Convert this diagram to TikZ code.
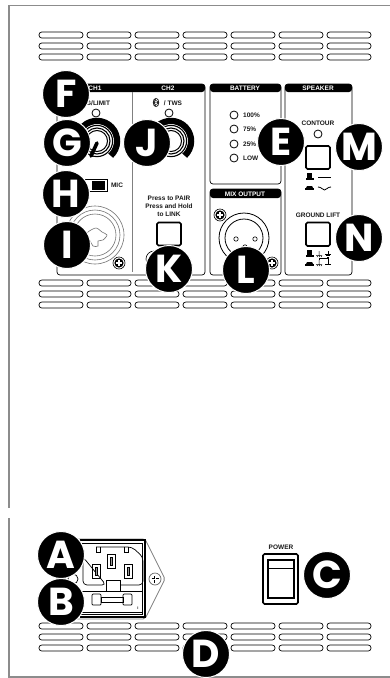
\documentclass[tikz,border=0pt]{standalone}
\usepackage{fontspec}
\setmainfont{Liberation Sans}
\newfontfamily\badgefont{Poppins}
\usetikzlibrary{positioning, arrows.meta}

\begin{document}
\begin{tikzpicture}[
  x=1pt, y=-1pt,
  frameline/.style={draw=black!45, line width=1.6pt},
  vent/.style={draw, line width=0.7pt, rounded corners=2.8pt},
  panel/.style={draw, line width=0.7pt, rounded corners=3pt},
  header/.style={fill=black, rounded corners=3pt},
  txt/.style={font=\fontsize{6.5}{8.2}\selectfont\bfseries, inner sep=0pt, align=center, text=black!90},
  headtxt/.style={txt, text=white},
  led/.style={draw, line width=0.8pt, fill=white},
  btn/.style={draw, line width=1.6pt, rounded corners=1.5pt, fill=white},
  ring/.style={draw=black!55, line width=0.6pt},
  badge/.style={circle, fill=black, draw=white, line width=1pt, minimum size=47pt, inner sep=0pt,
              text=white, font=\fontsize{39}{39}\badgefont\bfseries},
  screw/.pic={
    \draw[line width=0.6pt, fill=white] (0,0) circle[radius=6];
    \fill (0,0) circle[radius=4.6];
    \draw[white, line width=1.2pt] (-3,0) -- (3,0) (0,-3) -- (0,3);
  },
  hatup/.pic={
    \fill (-2.5,-4) rectangle (2.5,1);
    \fill (-4,1) rectangle (4,3);
  },
  hatdown/.pic={
    \fill (-2.5,-1) -- (2.5,-1) -- (3.5,1) -- (-3.5,1) -- cycle;
    \fill (-4.5,1) rectangle (4.5,2.5);
  },
  gndsym/.pic={
    \draw[line width=0.5pt] (0,-3) -- (0,0) (-3,0) -- (3,0) (-2,1.5) -- (2,1.5) (-1,3) -- (1,3);
  },
  chassis/.pic={
    \draw[line width=0.5pt] (-3,1.5) -- (3,1.5) (-2,3) -- (-1,1.5) (0,3) -- (1,1.5) (2,3) -- (3,1.5) (0,-3) -- (0,1.5);
  }
 ]
\useasboundingbox (0,0) rectangle (390,678);
\fill[white] (0,0) rectangle (390,678);

% outer frame
\draw[frameline] (390,5.5) -- (9,5.5) -- (9,508);
\draw[frameline] (9,518) -- (9,677) -- (390,677);

% vents
\foreach \y in {35,46,57,283,294,305,626,637,648}
  \foreach \x in {39,87,135,183,231,279,327}
    \draw[vent] (\x,\y-3) rectangle (\x+44,\y+3);

% panels
\draw[panel] (57,84) rectangle (205,275);
\draw[panel] (210,84) rectangle (281,184);
\draw[panel] (210,189) rectangle (281,275);
\draw[panel] (285,84) rectangle (352,275);
\fill[header] (57,92) |- (205,84) -- (205,92) -- cycle;
\fill[header] (210,92) |- (281,84) -- (281,92) -- cycle;
\fill[header] (210,198) |- (281,189) -- (281,198) -- cycle;
\fill[header] (285,92) |- (352,84) -- (352,92) -- cycle;
\draw[black!50, line width=1pt] (132,92) -- (132,272);

\node[headtxt] (ch1) at (95,88) {CH1};
\node[headtxt] (ch2) at (168,88) {CH2};
\node[headtxt] (battery) at (245,88) {BATTERY};
\node[headtxt] (speaker) at (318,88) {SPEAKER};
\node[headtxt] (mixout) at (245,194) {MIX OUTPUT};

% ch1
\node[txt] (siglimit) at (95,103) {SIG/LIMIT};
\draw[led] (96,113) circle[radius=4];
\draw[line width=6.5pt] (97,141) ++(47:20) arc[start angle=47, end angle=-233, radius=20];
\fill[white] (97,141) circle[radius=16.8];
\draw[line width=1.1pt] (97,141) circle[radius=15.6];
\draw[line width=1.1pt] (97,141) circle[radius=13];
\draw[line width=1pt] (97,141) circle[radius=10.5];
\draw[line width=3.6pt, line cap=round] (97,143) -- (91,156);
\draw[line width=0.7pt] (83,179) rectangle (107,191);
\fill (92,181) rectangle (105,190);
\node[txt] (mic) at (117,185) {MIC};
\draw[ring] (95,235) circle[radius=29];
\draw[ring] (95,235) circle[radius=25];
\draw[ring] (95,235) circle[radius=21];
\draw[ring] plot[smooth cycle] coordinates {(88,232) (96,228) (102,232) (107,235) (103,240) (98,241) (98,246) (93,246) (90,241) (84,238)};
\pic at (119,263) {screw};

% ch2
\fill[black!85] (156,102.5) ellipse[x radius=3.2, y radius=4.6];
\draw[white, line width=0.4pt] (154.5,100.5) -- (157.5,104.5) -- (156,106) -- (156,99) -- (157.5,100.5) -- (154.5,104.5);
\node[txt] (tws) at (173,103) {/ TWS};
\draw[led] (169,113) circle[radius=4];
\draw[line width=6.5pt] (171,141) ++(47:20) arc[start angle=47, end angle=-233, radius=20];
\fill[white] (171,141) circle[radius=16.8];
\draw[line width=1.1pt] (171,141) circle[radius=15.6];
\draw[line width=1.1pt] (171,141) circle[radius=13];
\draw[line width=1pt] (171,141) circle[radius=10.5];
\node[txt] (pair) at (169,206.5) {Press to PAIR\\Press and Hold\\to LINK};
\draw[btn] (157,222.5) rectangle (181,245.5);
\draw[line width=0.6pt] (154,259) circle[radius=8];

% battery
\draw[led] (234,115) circle[radius=4];
\draw[led] (234,129) circle[radius=4];
\draw[led] (234,144) circle[radius=4];
\draw[led] (234,158) circle[radius=4];
\node[txt, anchor=west] (b100) at (243,115) {100\%};
\node[txt, anchor=west] (b75) at (243,129) {75\%};
\node[txt, anchor=west] (b25) at (243,144) {25\%};
\node[txt, anchor=west] (blow) at (243,158) {LOW};

% mix output
\draw[line width=0.8pt] (244,238) circle[radius=25];
\draw[line width=0.8pt] (244,238) circle[radius=19];
\draw[line width=0.6pt] (236,239) circle[radius=2.2];
\draw[line width=0.6pt] (255,239) circle[radius=2.2];
\draw[line width=0.6pt] (245,247) circle[radius=2.2];
\pic at (220,215) {screw};
\pic at (272,263) {screw};

% speaker
\node[txt] (contour) at (318,123) {CONTOUR};
\draw[led] (318,134) circle[radius=4];
\draw[btn] (306,146) rectangle (330,169);
\pic at (309.5,177) {hatup};
\draw[line width=1pt] (318,177) -- (331,177);
\pic at (309.5,187) {hatdown};
\draw[line width=0.8pt] (318,187) .. controls (322,187) and (322,190) .. (324.5,190) .. controls (327,190) and (327,187) .. (331,187);
\node[txt] (groundlift) at (318,215) {GROUND LIFT};
\draw[btn] (306,222.5) rectangle (330,246);
\pic at (309.5,254) {hatup};
\pic at (319,254) {chassis};
\pic at (328,254) {gndsym};
\pic at (309.5,263) {hatdown};
\pic at (319,263) {chassis};
\draw[line width=0.5pt] (319,260) -- (319,258.5) -- (328,258.5) -- (328,264) (325,264) -- (331,264);

% power inlet
\draw[black!50, line width=0.8pt, rounded corners=2pt] (72,539) -- (145,539) -- (165,579) -- (145,619) -- (72,619);
\draw[line width=1.6pt] (80,540) -- (145,540) -- (145,617) -- (80,617);
\draw[line width=0.8pt] (80,543) -- (142,543) -- (142,614) -- (80,614);
\draw[line width=0.7pt] (73,579) circle[radius=5];
\draw[line width=0.7pt, rounded corners=4pt] (96,547) -- (132,547) -- (143,557) -- (143,585) -- (120,585) (106,585) -- (83,585) -- (83,557) -- cycle;
\draw[line width=0.6pt] (96,547) -- (96,552) -- (100,552) -- (100,547);
\draw[line width=0.6pt] (124,547) -- (124,552) -- (128,552) -- (128,547);
\draw[line width=0.8pt] (107,554) rectangle (115,568);
\draw[line width=0.7pt, fill=black!40] (110,557) rectangle (112,565);
\draw[line width=0.8pt] (92,564) rectangle (100,578);
\draw[line width=0.7pt, fill=black!40] (95,567) rectangle (97,575);
\draw[line width=0.8pt] (124,564) rectangle (132,578);
\draw[line width=0.7pt, fill=black!40] (127,567) rectangle (129,575);
\draw[line width=0.7pt] (82,591) rectangle (142,612);
\draw[line width=0.8pt, fill=white] (106,591) -- (106,580) -- (120,580) -- (120,591);
\draw[line width=0.7pt, fill=white] (101,597.5) rectangle (123,602);
\draw[line width=0.7pt, rounded corners=1pt] (92,594) rectangle (101,605);
\draw[line width=0.7pt, rounded corners=1pt] (123,594) rectangle (132,605);
\node[txt, font=\fontsize{4}{4}\selectfont\bfseries] (fuse) at (138,608) {i};
\draw[black!60, line width=0.7pt] (155,579) circle[radius=6];
\draw[line width=2.6pt] (151.5,579) -- (158.5,579) (155,575.5) -- (155,582.5);
\draw[white, line width=1pt] (151.5,579) -- (158.5,579) (155,575.5) -- (155,582.5);

% power switch
\node[txt] (power) at (281,547) {POWER};
\draw[line width=1.7pt, rounded corners=1.5pt] (263,554) rectangle (298,604);
\draw[line width=1.1pt] (268,560) rectangle (294,598);
\draw[line width=0.9pt] (268,568) -- (294,568);

% badges
\node[badge] (f) at (66,94) {F};
\node[badge] (g) at (67,143) {G};
\node[badge] (j) at (147,143) {J};
\node[badge] (h) at (66,194) {H};
\node[badge] (i) at (67,245) {I};
\node[badge] (k) at (169,269) {K};
\node[badge] (l) at (246,270) {L};
\node[badge] (e) at (281,142) {E};
\node[badge] (m) at (359,147) {M};
\node[badge] (n) at (359,238) {N};
\node[badge] (a) at (61,555) {A};
\node[badge] (b) at (61,602) {B};
\node[badge] (c) at (327,575) {C};
\node[badge] (d) at (206,654) {D};
\end{tikzpicture}
\end{document}
